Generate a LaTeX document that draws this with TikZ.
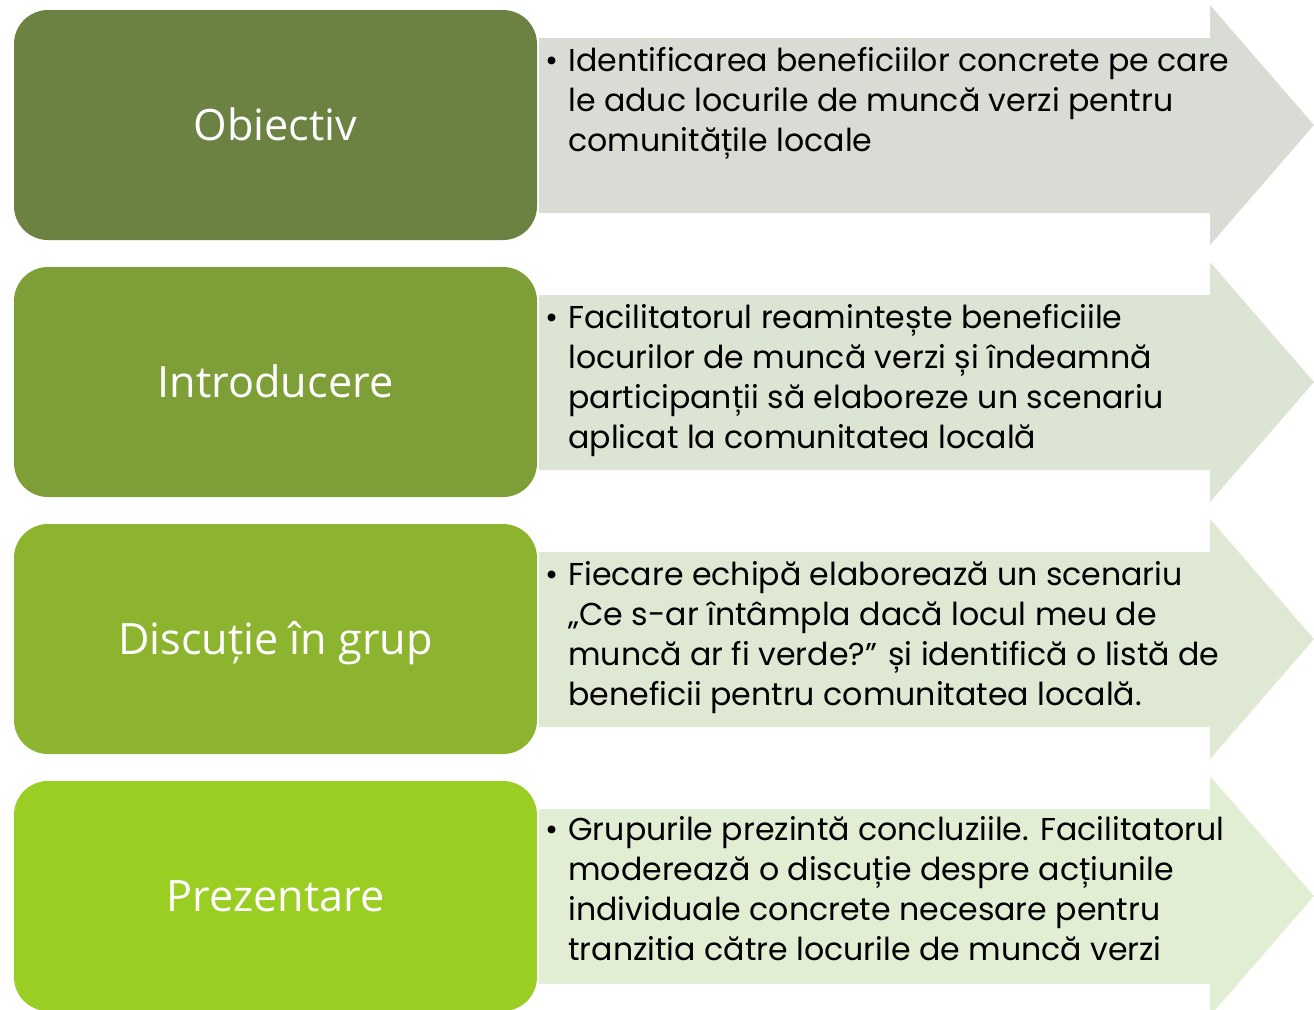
\documentclass[tikz,border=0pt]{standalone}
\usepackage{fontspec}
\setmainfont{Poppins}
\newfontfamily\stagefont{Open Sans}
\definecolor{stageA}{HTML}{6B8243}
\definecolor{stageB}{HTML}{7E9E38}
\definecolor{stageC}{HTML}{8DB42E}
\definecolor{stageD}{HTML}{9BCE22}
\definecolor{bandA}{HTML}{D9DCD4}
\definecolor{bandB}{HTML}{DCE4D3}
\definecolor{bandC}{HTML}{DEE8D2}
\definecolor{bandD}{HTML}{E2EED4}
\tikzset{
  stagebox/.style={rounded corners=17pt, minimum width=261.5pt, minimum height=115pt,
    text=white, font=\stagefont\fontsize{21.6}{24}\selectfont, text height=15.5pt, text depth=0pt},
  notetext/.style={anchor=base west, inner sep=0pt, font=\fontsize{15.8}{20}\selectfont},
}
\newcommand{\notelines}[1]{\begin{tabular}[t]{@{}l@{\hspace{5pt}}l@{}}#1\end{tabular}}
\begin{document}
\begin{tikzpicture}[x=0.5pt,y=-0.5pt]
    \useasboundingbox (0,0) rectangle (1314,1009);
    % arrows
    \fill[bandA] (539,38) -- (1210,38) -- (1210,5) -- (1314,125) -- (1210,245) -- (1210,213) -- (539,213) -- cycle;
    \fill[bandB] (539,295) -- (1210,295) -- (1210,262) -- (1314,382) -- (1210,502) -- (1210,470) -- (539,470) -- cycle;
    \fill[bandC] (539,552) -- (1210,552) -- (1210,519) -- (1314,639) -- (1210,759) -- (1210,727) -- (539,727) -- cycle;
    \fill[bandD] (539,809) -- (1210,809) -- (1210,776) -- (1314,896) -- (1210,1016) -- (1210,984) -- (539,984) -- cycle;
    % stages
    \node[stagebox, fill=stageA] (obj) at (275.5,125) {Obiectiv};
    \node[stagebox, fill=stageB] (intro) at (275.5,382) {Introducere};
    \node[stagebox, fill=stageC] (disc) at (275.5,639) {Discuție în grup};
    \node[stagebox, fill=stageD] (prez) at (275.5,896) {Prezentare};
    % notes
    \node[notetext] (objtxt) at (545,71) {\notelines{\textbullet & Identificarea beneficiilor concrete pe care\\
      & le aduc locurile de muncă verzi pentru\\
      & comunitățile locale}};
    \node[notetext] (introtxt) at (545,328) {\notelines{\textbullet & Facilitatorul reamintește beneficiile\\
      & locurilor de muncă verzi și îndeamnă\\
      & participanții să elaboreze un scenariu\\
      & aplicat la comunitatea locală}};
    \node[notetext] (disctxt) at (545,585) {\notelines{\textbullet & Fiecare echipă elaborează un scenariu\\
      & „Ce s-ar întâmpla dacă locul meu de\\
      & muncă ar fi verde?” și identifică o listă de\\
      & beneficii pentru comunitatea locală.}};
    \node[notetext] (prezeltxt) at (545,840) {\notelines{\textbullet & Grupurile prezintă concluziile. Facilitatorul\\
      & moderează o discuție despre acțiunile\\
      & individuale concrete necesare pentru\\
      & tranzitia către locurile de muncă verzi}};
\end{tikzpicture}
\end{document}
